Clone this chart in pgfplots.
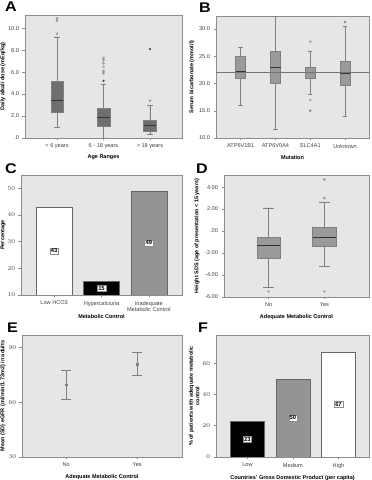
\documentclass[border=0pt]{standalone}
\usepackage{pgfplots}
\pgfplotsset{compat=1.18}
\usepgfplotslibrary{statistics}
\usepackage{fontspec}
\setmainfont{Liberation Sans}
\definecolor{bgc}{HTML}{E6E6E6}
\definecolor{framec}{HTML}{8C8C8C}
\definecolor{boxA}{HTML}{6E6E6E}
\definecolor{boxB}{HTML}{9A9A9A}
\definecolor{whc}{HTML}{808080}
\definecolor{tlc}{HTML}{404040}
\newcommand{\lfont}{\bfseries\fontsize{5.5}{6.5}\selectfont}
\pgfplotsset{
  spss/.style={
    scale only axis,
    axis background/.style={fill=bgc},
    axis line style={draw=framec, line width=0.6pt},
    tick style={draw=framec, line width=0.5pt},
    tick align=outside, major tick length=2.5pt,
    xtick pos=left, ytick pos=left,
    boxplot/draw direction=y,
    ticklabel style={font=\fontsize{5.6}{6.4}\selectfont, text=tlc},
    every axis x label/.style={at={(axis description cs:0.5,0)}, anchor=north, yshift=-#1pt, font=\lfont},
  },
  spss/.default=14,
  yl/.style={every axis y label/.style={at={(axis description cs:0,0.5)}, anchor=south, xshift=-#1pt, rotate=90, font=\lfont, align=center}},
  bxp/.style={draw=whc, fill=#1, line width=0.5pt,
    boxplot/every median/.style={draw=black!80, line width=0.9pt}},
  outl/.style={only marks, mark=o, mark size=1pt, draw=whc, mark options={line width=0.45pt}},
  extr/.style={only marks, mark=*, mark size=0.9pt, draw=black!70, fill=black!70},
  barlab/.style={draw=none, mark=none, nodes near coords, point meta=explicit symbolic,
    nodes near coords align={center},
    nodes near coords style={font=\bfseries\fontsize{5.8}{6.5}\selectfont, fill=white, draw=black!45, inner sep=1pt, line width=0.35pt, anchor=center}},
}
\newcommand{\bx}[7]{\addplot[bxp=#7, boxplot prepared={draw position=#1, lower whisker=#2, lower quartile=#3, median=#4, upper quartile=#5, upper whisker=#6}] coordinates {};}
\begin{document}
\begin{tikzpicture}
\useasboundingbox (0,0) rectangle (372pt,480pt);
% ---------- A ----------
\begin{axis}[spss=13, yl=16, at={(25pt,465pt)}, anchor=north west, width=157pt, height=123pt,
  xmin=-0.69, xmax=2.69, ymin=0, ymax=11.2,
  xtick={0,1,2}, xticklabels={< 6 years, 6 - 18 years, > 18 years},
  ytick={0,2,4,6,8,10}, yticklabels={.0,2.0,4.0,6.0,8.0,10.0},
  xlabel={Age Ranges}, ylabel={Daily alkali dose (mEq/kg)},
  boxplot/box extend=0.27, boxplot/whisker extend=0.12]
\bx{0}{0.95}{2.3}{3.4}{5.15}{9.2}{boxA}
\bx{1}{0}{1.1}{1.85}{2.7}{4.9}{boxA}
\bx{2}{0.3}{0.65}{1.1}{1.65}{2.95}{boxA}
\addplot[outl] coordinates {(0,9.5) (0,10.7) (0,10.9) (1,5.9) (1,6.1) (1,6.5) (1,6.8) (1,7.1) (1,7.3) (2,3.4)};
\addplot[extr] coordinates {(1,5.2) (2,8.1)};
\end{axis}
% ---------- B ----------
\begin{axis}[spss=14, yl=18, at={(216pt,464pt)}, anchor=north west, width=153pt, height=122pt,
  xmin=-0.71, xmax=3.69, ymin=10, ymax=32.4,
  xtick={0,1,2,3}, xticklabels={ATP6V1B1, ATP6V0A4, SLC4A1, Unknown},
  ytick={10,15,20,25,30}, yticklabels={10.0,15.0,20.0,25.0,30.0},
  xlabel={Mutation}, ylabel={Serum bicarbonate (mmol/l)},
  boxplot/box extend=0.29, boxplot/whisker extend=0.13]
\bx{0}{16}{21}{22.3}{25}{26.7}{boxB}
\bx{1}{11.6}{20}{23}{25.9}{32.3}{boxB}
\bx{2}{18}{21}{22}{23}{26}{boxB}
\bx{3}{14}{19.6}{21.9}{24}{30.5}{boxB}
\addplot[outl] coordinates {(2,27.7) (2,17) (2,15) (3,31.3)};
\addplot[draw=black!55, line width=0.8pt] coordinates {(-0.71,22) (3.69,22)};
\end{axis}
% ---------- C ----------
\begin{axis}[spss=16, yl=12, at={(21pt,305pt)}, anchor=north west, width=161pt, height=120pt,
  xmin=-0.7, xmax=2.7, ymin=10, ymax=54.9,
  xtick={0,1,2}, xticklabels={Low HCO3, Hypercalciuria, Inadequate\\Metabolic Control},
  xticklabel style={align=center},
  ytick={10,20,30,40,50},
  xlabel={Metabolic Control}, ylabel={Percentage}]
\addplot[ybar, bar width=0.76, bar shift=0pt, fill=white, draw=black!60] coordinates {(0,43)};
\addplot[ybar, bar width=0.76, bar shift=0pt, fill=black, draw=black!60] coordinates {(1,15)};
\addplot[ybar, bar width=0.76, bar shift=0pt, fill=black!42, draw=black!60] coordinates {(2,49)};
\addplot[barlab] coordinates {(0,26.5)[43] (1,12.5)[15] (2,29.5)[49]};
\end{axis}
% ---------- D ----------
\begin{axis}[spss=14, yl=21, at={(224pt,305pt)}, anchor=north west, width=145pt, height=122pt,
  xmin=-0.8, xmax=1.8, ymin=-6, ymax=5.1,
  xtick={0,1}, xticklabels={No, Yes},
  ytick={-6,-4,-2,0,2,4}, yticklabels={-6.00,-4.00,-2.00,.00,2.00,4.00},
  xlabel={Adequate Metabolic Control}, ylabel={Height SDS (age of presentation < 15 years)},
  boxplot/box extend=0.42, boxplot/whisker extend=0.19]
\bx{0}{-5.1}{-2.5}{-1.3}{-0.55}{2.1}{boxB}
\bx{1}{-3.2}{-1.35}{-0.55}{0.35}{2.65}{boxB}
\addplot[outl] coordinates {(0,-5.5) (1,3.0) (1,4.7) (1,-5.5)};
\end{axis}
% ---------- E ----------
\begin{axis}[spss=14, yl=13, at={(22pt,145pt)}, anchor=north west, width=160pt, height=122pt,
  xmin=-0.62, xmax=1.63, ymin=30, ymax=96.9,
  xtick={0,1}, xticklabels={No, Yes},
  ytick={30,60,90},
  xlabel={Adequate Metabolic Control}, ylabel={Mean (SD) eGFR (ml/min/1.73m2) in adults}]
\addplot[only marks, mark=square*, mark size=0.9pt, draw=whc, fill=whc,
  error bars/.cd, y dir=both, y explicit,
  error bar style={draw=whc, line width=0.6pt},
  error mark options={rotate=90, mark size=5pt, draw=whc, line width=0.6pt}]
  coordinates {(0,69.6) +- (0,7.9) (1,80.9) +- (0,6.3)};
\end{axis}
% ---------- F ----------
\begin{axis}[spss=15, yl=13, at={(216pt,145pt)}, anchor=north west, width=153pt, height=122pt,
  xmin=-0.69, xmax=2.67, ymin=0, ymax=78,
  xtick={0,1,2}, xticklabels={Low, Medium, High},
  ytick={0,20,40,60},
  xlabel={Countries' Gross Domestic Product (per capita)},
  ylabel={\% of patients with adequate metabolic\\control}]
\addplot[ybar, bar width=0.75, bar shift=0pt, fill=black, draw=black!60] coordinates {(0,23)};
\addplot[ybar, bar width=0.75, bar shift=0pt, fill=black!42, draw=black!60] coordinates {(1,50)};
\addplot[ybar, bar width=0.75, bar shift=0pt, fill=white, draw=black!60] coordinates {(2,67)};
\addplot[barlab] coordinates {(0,11.5)[23] (1,25)[50] (2,33.5)[67]};
\end{axis}
% ---------- panel letters ----------
\begin{scope}[every node/.style={font=\bfseries\fontsize{14}{14}\selectfont, anchor=north west, inner sep=0pt, xscale=1.15}]
\node at (5pt,478pt) {A};
\node at (199pt,477pt) {B};
\node at (5pt,316pt) {C};
\node at (196pt,316pt) {D};
\node at (7pt,157pt) {E};
\node at (198pt,157pt) {F};
\end{scope}
\end{tikzpicture}
\end{document}
